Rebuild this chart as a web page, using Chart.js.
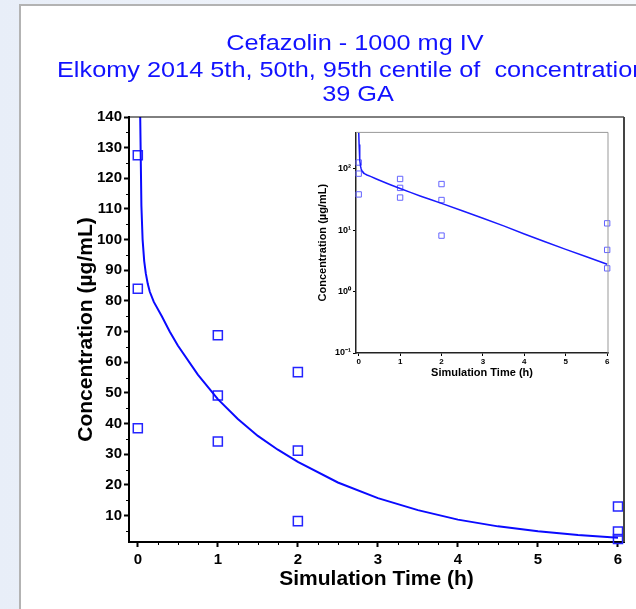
<!DOCTYPE html>
<html>
<head>
<meta charset="utf-8">
<script src="https://cdn.jsdelivr.net/npm/chart.js@4.4.0/dist/chart.umd.min.js"></script>
<style>
	html, body { margin: 0; padding: 0; }
	body { width: 636px; height: 609px; overflow: hidden; position: relative; background: linear-gradient(to right, #e8eef8, #f6f8fc); }
	.frame { position: absolute; left: 19px; top: 4px; width: 617px; height: 605px; background: #fff; border-left: 2px solid #b3b3b3; border-top: 2px solid #b3b3b3; box-sizing: border-box; }
	#main_graph_canvas { position: absolute; left: 0; top: 0; }
	#inset_graph_canvas { position: absolute; left: 305px; top: 125px; }
</style>
</head>
<body>
<div class="frame"></div>
<canvas id="main_graph_canvas" width="636" height="609"></canvas>
<canvas id="inset_graph_canvas" width="310" height="262"></canvas>
<script>
	// title lines
	var title_lines = ["Cefazolin - 1000 mg IV", "Elkomy 2014 5th, 50th, 95th centile of  concentration", "39 GA"];

	// observed concentrations (ug/mL) at sampling times (h)
	var sample_times = [0, 0, 0, 1, 1, 1, 2, 2, 2, 6, 6, 6];
	var observed_conc = [127.5, 84, 38.5, 68.8, 49.2, 34.2, 56.8, 31.2, 8.2, 13, 4.8, 2.4];

	// median simulated profile
	var median_times = [0, 0.01, 0.02, 0.03, 0.045, 0.06, 0.08, 0.1, 0.125, 0.15, 0.2, 0.3, 0.4, 0.5, 0.75, 1, 1.25, 1.5, 1.75, 2, 2.5, 3, 3.5, 4, 4.5, 5, 5.5, 6];
	var median_conc = [420, 250, 180, 140, 111, 100, 93, 89, 85.5, 83, 79.7, 75, 70, 65.5, 56, 48, 41.5, 36, 31.5, 27.5, 20.8, 15.7, 11.8, 8.7, 6.5, 4.9, 3.7, 2.8];

	// tick labels
	var main_x_ticks = [0, 1, 2, 3, 4, 5, 6];
	var main_x_minor = [0.25, 0.5, 0.75, 1.25, 1.5, 1.75, 2.25, 2.5, 2.75, 3.25, 3.5, 3.75, 4.25, 4.5, 4.75, 5.25, 5.5, 5.75];
	var main_y_ticks = [10, 20, 30, 40, 50, 60, 70, 80, 90, 100, 110, 120, 130, 140];
	var main_y_minor = [5, 15, 25, 35, 45, 55, 65, 75, 85, 95, 105, 115, 125, 135];
	var inset_y_ticks = [0.1, 1, 10, 100];
	var inset_y_labels = ["10\u207B\u00B9", "10\u2070", "10\u00B9", "10\u00B2"];

	var x_title = "Simulation Time (h)";
	var y_title = "Concentration (\u00B5g/mL)";
	var font_family = "'Liberation Sans', Arial, sans-serif";

	function toPoints(xs, ys){
		var pts = [];
		for(var i = 0; i < xs.length; i++){
			pts.push({x: xs[i], y: ys[i]});
		}
		return pts;
	}

	// title text is a bit wider than plain Arial in the original
	function wideText(ctx, text, x, y, align){
		ctx.save();
		ctx.translate(x, y);
		ctx.scale(1.15, 1);
		ctx.textAlign = align;
		ctx.fillText(text, 0, 0);
		ctx.restore();
	}

	var titlePlugin = {
		id: 'titleLines',
		afterDraw: function(chart){
			var ctx = chart.ctx;
			ctx.save();
			ctx.fillStyle = '#1212ff';
			ctx.font = "22px " + font_family;
			ctx.textBaseline = 'alphabetic';
			wideText(ctx, title_lines[0], 355, 50, 'center');
			wideText(ctx, title_lines[1], 57, 77, 'left');
			wideText(ctx, title_lines[2], 358, 101, 'center');
			ctx.restore();
		}
	};

	function boxPlugin(id, topColor, topWidth, rightColor, rightWidth, xMinor, yMinor, minorLen){
		return {
			id: id,
			afterDraw: function(chart){
				var ctx = chart.ctx;
				var a = chart.chartArea;
				ctx.save();
				ctx.strokeStyle = topColor;
				ctx.lineWidth = topWidth;
				ctx.beginPath();
				ctx.moveTo(a.left, a.top);
				ctx.lineTo(a.right, a.top);
				ctx.stroke();
				ctx.strokeStyle = rightColor;
				ctx.lineWidth = rightWidth;
				ctx.beginPath();
				ctx.moveTo(a.right, a.top);
				ctx.lineTo(a.right, a.bottom);
				ctx.stroke();

				// minor ticks
				ctx.strokeStyle = '#000';
				ctx.lineWidth = 1;
				ctx.beginPath();
				xMinor.forEach(function(v){
					var px = Math.round(chart.scales.x.getPixelForValue(v)) + 0.5;
					ctx.moveTo(px, a.bottom);
					ctx.lineTo(px, a.bottom + minorLen);
				});
				yMinor.forEach(function(v){
					var py = Math.round(chart.scales.y.getPixelForValue(v)) + 0.5;
					ctx.moveTo(a.left, py);
					ctx.lineTo(a.left - minorLen, py);
				});
				ctx.stroke();
				ctx.restore();
			}
		};
	}

	var main_graph_canvas = document.getElementById("main_graph_canvas");
	var main_chart = new Chart(main_graph_canvas, {
		type: 'scatter',
		data: {
			datasets: [
				{
					type: 'line',
					label: "Median",
					data: toPoints(median_times, median_conc),
					borderColor: '#0a0aff',
					borderWidth: 2,
					pointRadius: 0,
					tension: 0,
					fill: false
				},
				{
					label: "Observed",
					data: toPoints(sample_times, observed_conc),
					pointStyle: 'rect',
					pointRadius: 6.4,
					borderColor: '#2424ff',
					backgroundColor: 'rgba(0,0,0,0)',
					borderWidth: 1.5,
					clip: false
				}
			]
		},
		options: {
			responsive: false,
			animation: false,
			devicePixelRatio: 1,
			layout: { padding: { left: 0, top: 117, right: 12, bottom: 0 } },
			plugins: { legend: { display: false }, tooltip: { enabled: false }, title: { display: false } },
			scales: {
				x: {
					type: 'linear',
					min: -0.11,
					max: 6.075,
					afterBuildTicks: function(scale){
						scale.ticks = main_x_ticks.map(function(v){ return {value: v}; });
					},
					afterFit: function(scale){ scale.height = 67; },
					grid: { drawOnChartArea: false, tickLength: 5, tickWidth: 2, tickColor: '#000' },
					border: { color: '#000', width: 2 },
					ticks: { autoSkip: false, maxRotation: 0, padding: 4, color: '#000', font: { family: font_family, size: 15, weight: 'bold' } },
					title: { display: true, text: x_title, color: '#000', padding: { top: 0, bottom: 17 }, font: { family: font_family, size: 21, weight: 'bold' } }
				},
				y: {
					type: 'linear',
					min: 1.4,
					max: 140,
					afterBuildTicks: function(scale){
						scale.ticks = main_y_ticks.map(function(v){ return {value: v}; });
					},
					afterFit: function(scale){ scale.width = 129; },
					grid: { drawOnChartArea: false, tickLength: 5, tickWidth: 2, tickColor: '#000' },
					border: { color: '#000', width: 2 },
					ticks: { autoSkip: false, padding: 2, color: '#000', font: { family: font_family, size: 15, weight: 'bold' } },
					title: { display: true, text: y_title, color: '#000', padding: { top: 74, bottom: 0 }, font: { family: font_family, size: 21, weight: 'bold' } }
				}
			}
		},
		plugins: [titlePlugin, boxPlugin('mainBox', '#000', 1, '#444', 2, main_x_minor, main_y_minor, 3)]
	});

	var inset_graph_canvas = document.getElementById("inset_graph_canvas");
	var inset_chart = new Chart(inset_graph_canvas, {
		type: 'scatter',
		data: {
			datasets: [
				{
					type: 'line',
					label: "Median",
					data: toPoints(median_times, median_conc),
					borderColor: '#1a1aff',
					borderWidth: 1.5,
					pointRadius: 0,
					tension: 0,
					fill: false
				},
				{
					label: "Observed",
					data: toPoints(sample_times, observed_conc),
					pointStyle: 'rect',
					pointRadius: 3.8,
					borderColor: '#6464ff',
					backgroundColor: 'rgba(0,0,0,0)',
					borderWidth: 1,
					clip: false
				}
			]
		},
		options: {
			responsive: false,
			animation: false,
			devicePixelRatio: 1,
			layout: { padding: { left: 0, top: 6, right: 7, bottom: 0 } },
			plugins: { legend: { display: false }, tooltip: { enabled: false } },
			scales: {
				x: {
					type: 'linear',
					min: -0.065,
					max: 6.02,
					afterBuildTicks: function(scale){
						scale.ticks = main_x_ticks.map(function(v){ return {value: v}; });
					},
					afterFit: function(scale){ scale.height = 34; },
					grid: { drawOnChartArea: false, tickLength: 3, tickWidth: 1, tickColor: '#000' },
					border: { color: '#222', width: 1.5 },
					ticks: { autoSkip: false, maxRotation: 0, padding: 1, color: '#000', font: { family: font_family, size: 8, weight: 'bold' } },
					title: { display: true, text: x_title, color: '#000', padding: { top: 0, bottom: 7 }, font: { family: font_family, size: 11, weight: 'bold' } }
				},
				y: {
					type: 'logarithmic',
					min: 0.1,
					max: 395,
					afterBuildTicks: function(scale){
						scale.ticks = inset_y_ticks.map(function(v){ return {value: v}; });
					},
					afterFit: function(scale){ scale.width = 51; },
					grid: { drawOnChartArea: false, tickLength: 3, tickWidth: 1, tickColor: '#000' },
					border: { color: '#222', width: 1.5 },
					ticks: {
						autoSkip: false,
						padding: 2,
						color: '#000',
						font: { family: font_family, size: 9, weight: 'bold' },
						callback: function(value){
							var idx = inset_y_ticks.indexOf(value);
							return idx >= 0 ? inset_y_labels[idx] : '';
						}
					},
					title: { display: true, text: y_title, color: '#000', padding: { top: 11, bottom: 0 }, font: { family: font_family, size: 11, weight: 'bold' } }
				}
			}
		},
		plugins: [boxPlugin('insetBox', '#999', 1, '#999', 1, [], [], 0)]
	});
</script>
</body>
</html>
